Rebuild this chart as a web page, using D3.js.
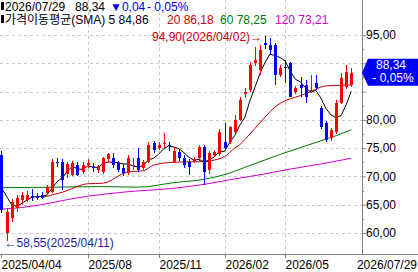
<!DOCTYPE html>
<html><head><meta charset="utf-8">
<script src="https://cdn.jsdelivr.net/npm/d3@7"></script>
<style>
html,body{margin:0;padding:0;background:#fff;}
svg{display:block;font-family:"Liberation Sans","Noto Sans CJK KR",Arial,sans-serif;}
</style></head>
<body><svg id="c" width="418" height="272"></svg>
<script>
// ---- data (weekly candles) ----
const firstWeek = new Date(2025, 2, 31);
const open = [73.8,60.0,62.7,64.4,65.8,65.9,66.5,66.6,66.8,67.1,
67.3,72.5,72.6,70.4,70.3,72.1,70.8,72.1,71.6,71.2,
70.8,73.1,73.3,72.4,71.5,70.6,72.0,73.3,71.5,72.6,
75.9,75.0,75.8,75.6,72.6,74.3,73.3,72.6,72.8,73.2,
75.2,71.1,73.8,73.9,76.1,76.1,77.9,80.0,84.6,85.3,
90.0,88.8,93.5,93.2,93.2,87.9,89.3,90.0,84.9,86.2,
86.2,85.2,86.5,82.1,79.5,76.8,77.9,83.0,85.8,86.2];
const high = [74.5,64.5,66.0,66.7,67.3,67.5,67.8,67.0,67.2,68.5,
73.0,73.2,73.0,72.6,72.8,72.5,72.5,73.0,72.3,72.0,
73.5,74.1,74.1,72.8,72.2,73.8,73.3,75.0,72.9,76.0,
76.3,76.0,77.7,76.1,75.2,74.8,73.8,73.0,73.4,75.6,
75.6,74.5,74.6,78.4,79.5,79.0,80.9,84.0,85.6,90.2,
92.9,93.2,94.9,94.5,93.5,89.7,90.6,90.2,86.0,87.5,
87.0,87.9,87.9,82.5,79.8,78.5,83.5,88.2,89.7,89.2];
const low = [63.5,58.55,62.0,63.8,65.0,65.5,65.6,65.8,66.0,66.8,
67.0,71.6,67.6,69.8,70.0,70.0,70.5,71.5,70.8,70.6,
70.5,72.6,71.5,70.8,70.1,70.3,71.1,70.8,71.2,72.3,
74.2,74.6,75.0,74.5,72.3,72.8,71.5,70.3,72.4,72.8,
68.5,70.5,73.4,73.6,74.7,75.8,77.6,79.8,83.9,85.0,
89.5,88.0,92.5,91.5,86.2,87.5,86.5,84.0,84.5,84.0,
83.0,84.7,85.3,78.3,76.0,76.3,77.5,82.8,85.5,85.8];
const close = [64.1,63.7,65.5,66.2,66.7,66.8,66.3,66.2,66.2,68.2,
72.6,72.3,69.4,72.2,72.4,70.3,72.0,72.3,71.5,71.8,
73.3,73.9,72.0,71.2,70.6,73.3,72.1,71.1,72.6,75.6,
74.7,75.6,75.9,75.3,74.5,73.3,72.0,71.7,72.9,75.2,
70.8,74.1,74.3,77.9,75.0,78.7,80.0,83.5,84.9,89.7,
90.6,92.4,93.2,92.4,87.9,89.2,89.1,84.0,85.6,85.6,
84.0,85.3,85.6,78.8,76.4,78.2,83.0,87.4,88.38,88.34];
// 5-week MA for the first weeks (needs earlier data)
const ma5Lead = [68.0,66.5,65.0,64.7];
// longer moving averages at [index, value]
const ma20Pts = [[8,66.3],[12,67.2],[17,68.7],[20,68.8],[25,70.8],[28,71.0],[30,72.0],[34,72.5],[38,72.6],[40,72.6],[42,72.9],[44,73.5],[46,75.0],[47,75.6],[48,76.5],[50,78.5],[52,80.5],[54,82.3],[56,83.4],[58,84.0],[59,84.3],[61,85.0],[62,85.4],[63,85.8],[64,86.0],[66,86.1],[69,86.18]];
const ma60Pts = [[0,68.0],[10,68.1],[20,68.2],[27,68.1],[34,68.9],[40,69.5],[45,70.6],[48,71.6],[51,72.6],[55,73.9],[58,74.8],[60,75.4],[63,76.3],[66,77.2],[69,78.25]];
const ma120Pts = [[0,64.2],[4,64.5],[17,66.5],[25,67.3],[34,67.9],[40,68.6],[45,69.4],[51,70.3],[57,71.3],[63,72.2],[69,73.21]];
const yTicks = [60,65,70,75,80,85,90,95];
const xTickIdx = [0,17,31,44,56];
const xTickLabels = ["2025/04/04","2025/08","2025/11","2026/02","2026/05"];
const lastLabel = "2026/07/29";
const headerRow1 = [["2026/07/29","#000"],["88,34","#000"],["▼0,04","#0000ff"],["- 0,05%","#0000ff"]];
const headerRow2 = [["가격이동평균(SMA) 5 84,86","#000"],["20 86,18","#d00000"],["60 78,25","#007800"],["120 73,21","#d000d0"]];
const maxLabel = "94,90(2026/04/02)→", minLabel = "←58,55(2025/04/11)";
const priceLabel = ["88,34","- 0,05%"];

// ---- layout ----
const svg = d3.select("#c");
const W=418, H=272, plotR=362, plotB=254;
const weeks = d3.timeMonday.range(firstWeek, d3.timeMonday.offset(firstWeek, close.length));
const idx = d3.range(close.length);
const x = d3.scaleBand().domain(idx).range([-1.1, 353.8]);
const cx = i => x(i) + x.bandwidth()/2;
const y = d3.scaleLinear().domain([60,95]).range([233,35]);
const fmt = v => d3.format(".2f")(v).replace(".", ",");
const yp = y(close[close.length-1]);

// grid
const grid = svg.append("g").attr("stroke","#c8c8c8").attr("stroke-dasharray","3,3").attr("shape-rendering","crispEdges");
yTicks.forEach(t => grid.append("line").attr("x1",0).attr("x2",plotR).attr("y1",Math.round(y(t))+0.5).attr("y2",Math.round(y(t))+0.5));
xTickIdx.slice(1).forEach(i => grid.append("line").attr("x1",Math.round(cx(i))+0.5).attr("x2",Math.round(cx(i))+0.5).attr("y1",0).attr("y2",plotB));

// MA lines
const line = d3.line().x(d=>cx(d[0])).y(d=>y(d[1]));
const lineC = d3.line().x(d=>cx(d[0])).y(d=>y(d[1])).curve(d3.curveMonotoneX);
svg.append("path").attr("d",lineC(ma120Pts)).attr("fill","none").attr("stroke","#d000d0").attr("stroke-width",1);
svg.append("path").attr("d",lineC(ma60Pts)).attr("fill","none").attr("stroke","#007800").attr("stroke-width",1);
svg.append("path").attr("d",lineC(ma20Pts)).attr("fill","none").attr("stroke","#c00000").attr("stroke-width",1);
const ma5 = idx.map(i => i < 4 ? [i, ma5Lead[i]] : [i, d3.mean(close.slice(i-4,i+1))]);
svg.append("path").attr("d",line(ma5)).attr("fill","none").attr("stroke","#000").attr("stroke-width",1);

// candles
const cg = svg.append("g").attr("shape-rendering","crispEdges");
idx.forEach(i => {
  const up = close[i] >= open[i];
  const col = up ? "#ff0000" : "#0000ff";
  const xc = Math.round(cx(i));
  cg.append("line").attr("x1",xc+0.5).attr("x2",xc+0.5).attr("y1",y(high[i])).attr("y2",y(low[i])).attr("stroke",col);
  const t = y(Math.max(open[i],close[i])), b = y(Math.min(open[i],close[i]));
  cg.append("rect").attr("x",xc-1).attr("y",t).attr("width",3).attr("height",Math.max(1,b-t)).attr("fill",col);
});

// extreme labels
const iMax = d3.maxIndex(high), iMin = d3.minIndex(low);
svg.append("text").attr("x",cx(iMax)-3).attr("y",y(high[iMax])+5).attr("text-anchor","end")
  .attr("font-size",12).attr("fill","#d00000").text(maxLabel);
svg.append("text").attr("x",cx(iMin)-2).attr("y",y(low[iMin])+6).attr("text-anchor","start")
  .attr("font-size",12).attr("fill","#1c1ca8").text(minLabel);

// axes frame
svg.append("line").attr("x1",plotR+0.5).attr("x2",plotR+0.5).attr("y1",0).attr("y2",plotB).attr("stroke","#808080");
svg.append("line").attr("x1",0).attr("x2",W).attr("y1",plotB+0.5).attr("y2",plotB+0.5).attr("stroke","#808080");

// y axis (labels hidden where the current-price flag covers them)
const yAxis = d3.axisRight(y).tickValues(yTicks).tickSize(4).tickFormat(fmt);
const ya = svg.append("g").attr("transform",`translate(${plotR},0)`).call(yAxis);
ya.select(".domain").remove();
ya.selectAll("text").attr("font-size",12).attr("font-family","Liberation Sans, Arial").attr("fill","#000").attr("x",4)
  .style("display", d => Math.abs(y(d)-yp) < 20 ? "none" : null);
ya.selectAll("line").attr("stroke","#808080");
const minor = d3.range(62.5, 95, 5);
svg.append("g").selectAll("line").data(minor).join("line")
  .attr("x1",plotR).attr("x2",plotR+2).attr("y1",d=>Math.round(y(d))+0.5).attr("y2",d=>Math.round(y(d))+0.5).attr("stroke","#808080");

// x axis
const xa = svg.append("g");
xTickIdx.forEach((i,k) => {
  const xx = Math.round(cx(i)) + 0.5;
  xa.append("line").attr("x1",xx).attr("x2",xx).attr("y1",plotB).attr("y2",plotB+4).attr("stroke","#808080");
  xa.append("text").attr("x",xx).attr("y",plotB+15).attr("font-size",12).attr("fill","#000").text(xTickLabels[k]);
});
xa.append("text").attr("x",W-1).attr("y",plotB+15).attr("text-anchor","end").attr("font-size",12).attr("fill","#000").text(lastLabel);

// current price flag
svg.append("path").attr("d",`M${plotR},${yp} L${plotR+6},${yp-14} L${W},${yp-14} L${W},${yp+13} L${plotR+6},${yp+13} Z`).attr("fill","#0000ff");
svg.append("text").attr("x",391).attr("y",yp-4).attr("text-anchor","middle").attr("font-size",12).attr("fill","#fff").text(priceLabel[0]);
svg.append("text").attr("x",393).attr("y",yp+9).attr("text-anchor","middle").attr("font-size",12).attr("fill","#fff").text(priceLabel[1]);

// header
function row(items, yb, xs){
  svg.append("rect").attr("x",1).attr("y",yb-9).attr("width",3).attr("height",8).attr("fill","#000");
  items.forEach((it,k)=> svg.append("text").attr("x",xs[k]).attr("y",yb).attr("font-size",12).attr("fill",it[1]).text(it[0]));
}
row(headerRow1, 11, [5,75,110,147]);
row(headerRow2, 24, [5,167,220,275]);
</script></body></html>
